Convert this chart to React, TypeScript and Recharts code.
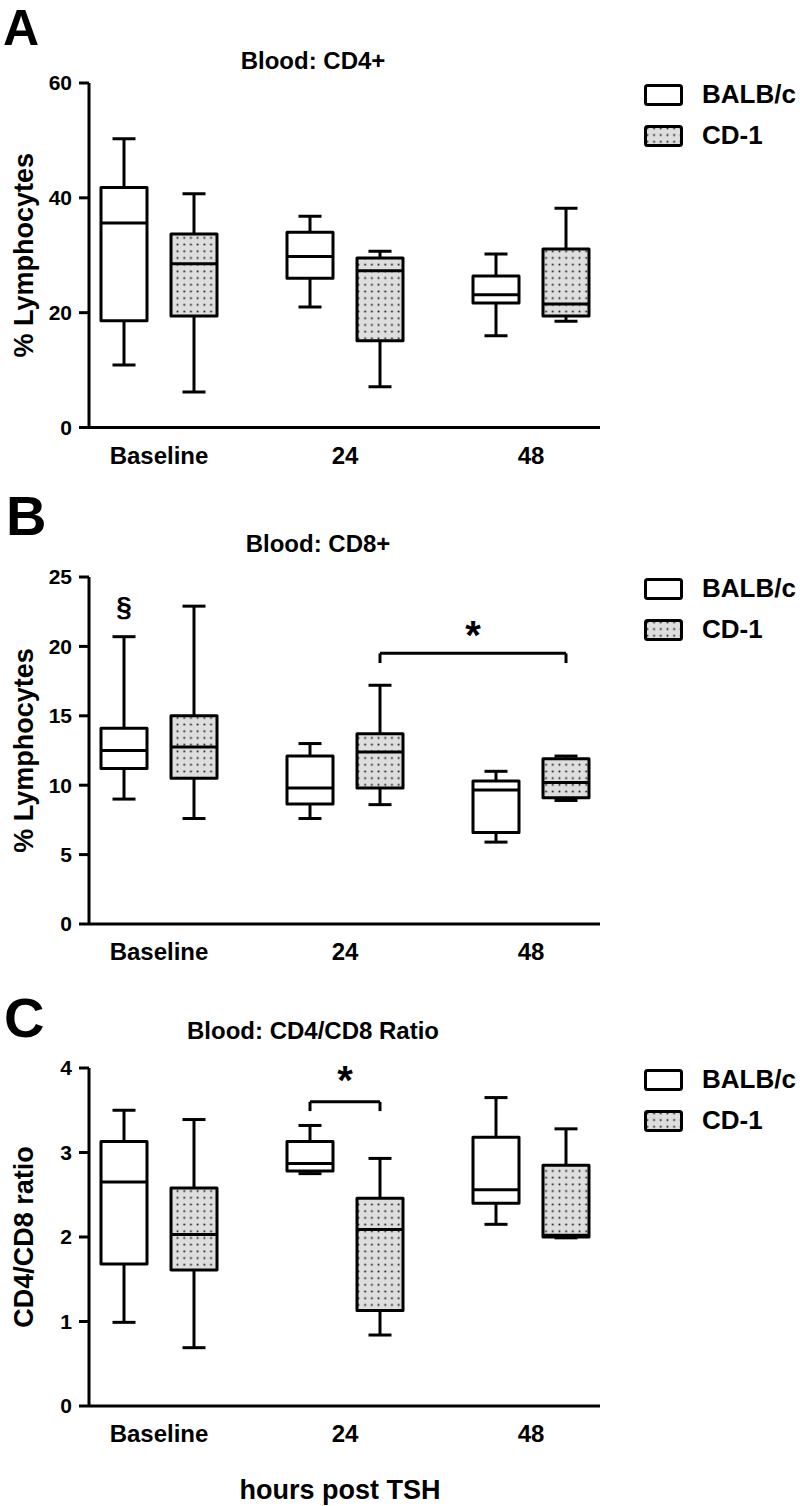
import React from "react";
import {
  ComposedChart,
  Bar,
  XAxis,
  YAxis,
  ReferenceLine,
  ReferenceDot,
  Legend,
} from "recharts";

const CATEGORIES = ["Baseline", "24", "48"];
const STRAINS = ["BALB/c", "CD-1"];

// box stats per category: [min, q1, median, q3, max]
const CD4_BALB = [
  [10.9, 18.6, 35.6, 41.8, 50.3],
  [21.0, 26.0, 29.8, 34.0, 36.8],
  [16.0, 21.7, 23.1, 26.4, 30.2],
];
const CD4_CD1 = [
  [6.2, 19.4, 28.5, 33.7, 40.7],
  [7.1, 15.1, 27.3, 29.5, 30.7],
  [18.5, 19.4, 21.5, 31.1, 38.2],
];
const CD8_BALB = [
  [9.0, 11.2, 12.5, 14.1, 20.7],
  [7.6, 8.65, 9.8, 12.1, 13.0],
  [5.9, 6.6, 9.65, 10.3, 11.0],
];
const CD8_CD1 = [
  [7.6, 10.5, 12.75, 15.0, 22.9],
  [8.6, 9.8, 12.4, 13.7, 17.2],
  [8.9, 9.1, 10.2, 11.9, 12.1],
];
const RATIO_BALB = [
  [0.99, 1.68, 2.65, 3.13, 3.5],
  [2.75, 2.78, 2.87, 3.13, 3.32],
  [2.15, 2.4, 2.56, 3.18, 3.65],
];
const RATIO_CD1 = [
  [0.69, 1.61, 2.03, 2.58, 3.39],
  [0.84, 1.13, 2.09, 2.46, 2.93],
  [1.99, 2.0, 2.02, 2.85, 3.28],
];

const CD4_TICKS = [0, 20, 40, 60];
const CD8_TICKS = [0, 5, 10, 15, 20, 25];
const RATIO_TICKS = [0, 1, 2, 3, 4];

// significance: from/to = [category, strain]
const CD8_BRACKETS = [{ from: [1, 1], to: [2, 1], y: 19.5, drop: 0.7, label: "*", labelY: 21.5 }];
const CD8_MARKS = [{ text: "§", cat: 0, strain: 0, y: 22.9 }];
const RATIO_BRACKETS = [{ from: [1, 0], to: [1, 1], y: 3.6, drop: 0.11, label: "*", labelY: 3.96 }];

const FONT = "'Liberation Sans', Arial, Helvetica, sans-serif";
const BAR_SIZE = 46;
const BAR_GAP = 24;
const PLOT_LEFT = 89;
const PLOT_RIGHT = 600;
const PAD = { left: -23, right: -24 };
const BAND = (PLOT_RIGHT - PLOT_LEFT - PAD.left - PAD.right) / CATEGORIES.length;
// numeric helper axis: category index i sits at the band centre
const POS_PAD = { left: PAD.left + BAND / 2, right: PAD.right + BAND / 2 };
const HALF_PAIR = (BAR_SIZE + BAR_GAP) / 2 / BAND;

function boxPos(cat: number, strain: number) {
  return cat + (strain === 0 ? -HALF_PAIR : HALF_PAIR);
}

function buildRows(balb: number[][], cd1: number[][]) {
  return CATEGORIES.map((name, i) => ({
    name,
    balb: [balb[i][0], balb[i][4]],
    cd1: [cd1[i][0], cd1[i][4]],
    balbStats: balb[i],
    cd1Stats: cd1[i],
  }));
}

function DotPattern({ id }: { id: string }) {
  return (
    <pattern id={id} patternUnits="userSpaceOnUse" width={6.7} height={6.7}>
      <rect width={6.7} height={6.7} fill="#dedede" />
      <rect x={2.5} y={2.5} width={1.7} height={1.7} fill="#111" />
    </pattern>
  );
}

function BoxShape(props: any) {
  const { x, y, width, height, stats, fill } = props;
  if (!stats || x == null) return null;
  const [min, q1, med, q3, max] = stats;
  const top = Math.min(y, y + height);
  const bot = Math.max(y, y + height);
  const toY = (v: number) => bot - ((bot - top) * (v - min)) / (max - min);
  const cx = x + width / 2;
  const cap = width / 4;
  const line = { stroke: "#000", strokeWidth: 3 };
  return (
    <g>
      <line x1={cx} x2={cx} y1={toY(max)} y2={toY(q3)} {...line} />
      <line x1={cx} x2={cx} y1={toY(q1)} y2={toY(min)} {...line} />
      <line x1={cx - cap} x2={cx + cap} y1={toY(max)} y2={toY(max)} {...line} />
      <line x1={cx - cap} x2={cx + cap} y1={toY(min)} y2={toY(min)} {...line} />
      <rect
        x={x}
        y={toY(q3)}
        width={width}
        height={toY(q1) - toY(q3)}
        fill={fill}
        strokeLinejoin="round"
        {...line}
      />
      <line x1={x} x2={x + width} y1={toY(med)} y2={toY(med)} {...line} />
    </g>
  );
}

function LegendBox({ patternId }: { patternId?: string }) {
  return (
    <svg width={39} height={22} style={{ display: "block" }}>
      <defs>{patternId && <DotPattern id={patternId} />}</defs>
      <rect
        x={1.5}
        y={1.5}
        width={36}
        height={19}
        rx={2}
        fill={patternId ? `url(#${patternId})` : "#fff"}
        stroke="#000"
        strokeWidth={3}
      />
    </svg>
  );
}

function makeLegend(key: string) {
  return () => (
    <div style={{ fontFamily: FONT }}>
      {STRAINS.map((s, i) => (
        <div key={s} style={{ display: "flex", alignItems: "center", height: 41 }}>
          <LegendBox patternId={i === 1 ? `${key}-lg` : undefined} />
          <span style={{ fontSize: 26, fontWeight: "bold", marginLeft: 19, color: "#000" }}>{s}</span>
        </div>
      ))}
    </div>
  );
}

type Bracket = { from: number[]; to: number[]; y: number; drop: number; label: string; labelY: number };
type Mark = { text: string; cat: number; strain: number; y: number };

function BoxPanel(props: {
  id: string;
  top: number;
  height: number;
  plotTop: number;
  marginBottom: number;
  balb: number[][];
  cd1: number[][];
  ticks: number[];
  yLabel: string;
  brackets?: Bracket[];
  marks?: Mark[];
}) {
  const { id, top, height, plotTop, marginBottom, balb, cd1, ticks, yLabel } = props;
  const rows = buildRows(balb, cd1);
  const pid = `${id}-dots`;
  const yMax = ticks[ticks.length - 1];
  const plotBottom = height - marginBottom - 50;
  const line = { stroke: "#000", strokeWidth: 3 };

  const renderYLabel = (p: any) => {
    const vb = p && p.viewBox;
    const cy = vb && vb.height ? vb.y + vb.height / 2 : (plotTop + plotBottom) / 2;
    const cx = 24;
    return (
      <text
        x={cx}
        y={cy}
        transform={`rotate(-90 ${cx} ${cy})`}
        textAnchor="middle"
        dominantBaseline="central"
        fontSize={27}
        fontWeight="bold"
        fill="#000"
        fontFamily={FONT}
      >
        {yLabel}
      </text>
    );
  };

  const textMark = (text: string, size: number, shift: number) => (p: any) => (
    <text
      x={p.cx}
      y={p.cy + shift}
      textAnchor="middle"
      dominantBaseline="central"
      fontSize={size}
      fontWeight="bold"
      fill="#000"
      fontFamily={FONT}
    >
      {text}
    </text>
  );

  return (
    <div style={{ position: "absolute", left: 0, top }}>
      <ComposedChart
        width={800}
        height={height}
        data={rows}
        margin={{ top: plotTop, right: 800 - PLOT_RIGHT, bottom: marginBottom, left: 0 }}
        barGap={BAR_GAP}
        style={{ fontFamily: FONT }}
      >
        <defs>
          <DotPattern id={pid} />
        </defs>
        <XAxis
          xAxisId="cat"
          dataKey="name"
          type="category"
          padding={PAD}
          height={50}
          interval={0}
          tickLine={false}
          tickSize={0}
          tickMargin={19}
          axisLine={line}
          tick={{ fill: "#000", fontSize: 24, fontWeight: "bold", fontFamily: FONT }}
        />
        <XAxis
          xAxisId="pos"
          type="number"
          domain={[0, CATEGORIES.length - 1]}
          padding={POS_PAD}
          hide
          allowDataOverflow
        />
        <YAxis
          domain={[0, yMax]}
          ticks={ticks}
          interval={0}
          width={PLOT_LEFT}
          allowDataOverflow
          axisLine={line}
          tickLine={line}
          tickSize={10}
          tickMargin={7}
          tick={{ fill: "#000", fontSize: 21, fontWeight: "bold", fontFamily: FONT }}
          label={renderYLabel}
        />
        <Bar
          xAxisId="cat"
          dataKey="balb"
          barSize={BAR_SIZE}
          isAnimationActive={false}
          shape={(p: any) => <BoxShape {...p} stats={p.payload && p.payload.balbStats} fill="#fff" />}
        />
        <Bar
          xAxisId="cat"
          dataKey="cd1"
          barSize={BAR_SIZE}
          isAnimationActive={false}
          shape={(p: any) => <BoxShape {...p} stats={p.payload && p.payload.cd1Stats} fill={`url(#${pid})`} />}
        />
        {(props.brackets || []).map((b, i) => {
          const x1 = boxPos(b.from[0], b.from[1]);
          const x2 = boxPos(b.to[0], b.to[1]);
          return [
            <ReferenceLine key={`h${i}`} xAxisId="pos" segment={[{ x: x1, y: b.y }, { x: x2, y: b.y }]} {...line} ifOverflow="visible" />,
            <ReferenceLine key={`l${i}`} xAxisId="pos" segment={[{ x: x1, y: b.y }, { x: x1, y: b.y - b.drop }]} {...line} ifOverflow="visible" />,
            <ReferenceLine key={`r${i}`} xAxisId="pos" segment={[{ x: x2, y: b.y }, { x: x2, y: b.y - b.drop }]} {...line} ifOverflow="visible" />,
            <ReferenceDot
              key={`s${i}`}
              xAxisId="pos"
              x={(x1 + x2) / 2}
              y={b.labelY}
              r={0}
              ifOverflow="visible"
              shape={textMark(b.label, 40, 9)}
            />,
          ];
        })}
        {(props.marks || []).map((m, i) => (
          <ReferenceDot
            key={`m${i}`}
            xAxisId="pos"
            x={boxPos(m.cat, m.strain)}
            y={m.y}
            r={0}
            ifOverflow="visible"
            shape={textMark(m.text, 28, 0)}
          />
        ))}
        <Legend
          layout="vertical"
          align="center"
          verticalAlign="middle"
          wrapperStyle={{ left: 644, top: plotTop - 9, width: 160 }}
          content={makeLegend(id)}
        />
      </ComposedChart>
    </div>
  );
}

const overlayText = (
  text: string,
  left: number,
  top: number,
  size: number,
  center = false,
  lineHeight = size
) => (
  <div
    style={{
      position: "absolute",
      left,
      top,
      fontSize: size,
      lineHeight: `${lineHeight}px`,
      fontWeight: "bold",
      whiteSpace: "nowrap",
      transform: center ? "translateX(-50%)" : undefined,
      color: "#000",
    }}
  >
    {text}
  </div>
);

export default function App() {
  return (
    <div
      style={{
        position: "absolute",
        left: 0,
        top: 0,
        width: 800,
        height: 1506,
        background: "#fff",
        fontFamily: FONT,
        overflow: "hidden",
      }}
    >
      <BoxPanel id="a" top={0} height={480} plotTop={83} marginBottom={2.5} balb={CD4_BALB} cd1={CD4_CD1} ticks={CD4_TICKS} yLabel="% Lymphocytes" />
      <BoxPanel
        id="b"
        top={480}
        height={500}
        plotTop={97}
        marginBottom={6}
        balb={CD8_BALB}
        cd1={CD8_CD1}
        ticks={CD8_TICKS}
        yLabel="% Lymphocytes"
        brackets={CD8_BRACKETS}
        marks={CD8_MARKS}
      />
      <BoxPanel
        id="c"
        top={980}
        height={526}
        plotTop={88}
        marginBottom={50}
        balb={RATIO_BALB}
        cd1={RATIO_CD1}
        ticks={RATIO_TICKS}
        yLabel="CD4/CD8 ratio"
        brackets={RATIO_BRACKETS}
      />
      {overlayText("A", 3, 3, 50)}
      {overlayText("B", 6, 496, 56, false, 40)}
      {overlayText("C", 4, 998, 56, false, 40)}
      {overlayText("Blood: CD4+", 313, 49, 24, true)}
      {overlayText("Blood: CD8+", 318, 532, 24, true)}
      {overlayText("Blood: CD4/CD8 Ratio", 313, 1019, 24, true)}
      {overlayText("hours post TSH", 340, 1477, 27, true)}
    </div>
  );
}
